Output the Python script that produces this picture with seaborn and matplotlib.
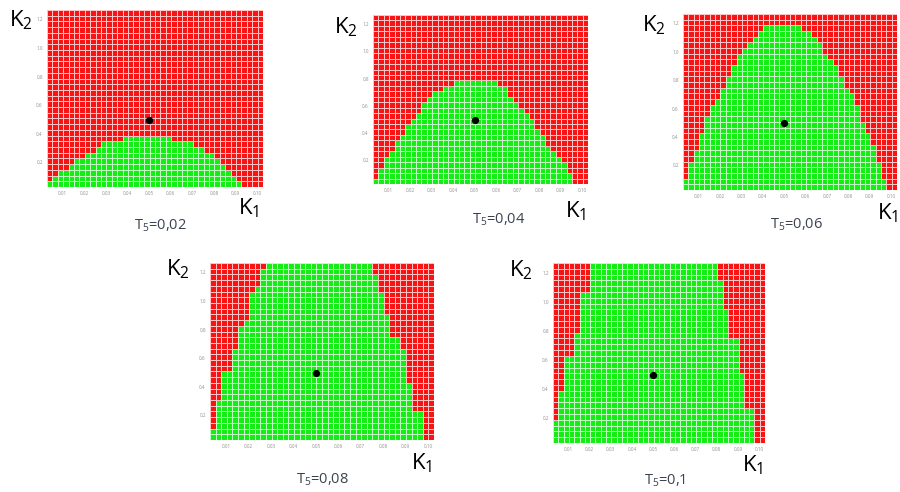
import numpy as np
import pandas as pd
import seaborn as sns
import matplotlib.pyplot as plt
from matplotlib.colors import ListedColormap

sns.set_style("white")
plt.rcParams['font.family'] = ['Open Sans', 'DejaVu Sans']
plt.rcParams['mathtext.default'] = 'regular'

# ---- grid of the parameter plane ----
k1_values = [0.0040, 0.0065, 0.0090, 0.0115, 0.0140, 0.0165, 0.0190, 0.0215, 0.0240, 0.0265,
             0.0290, 0.0315, 0.0340, 0.0365, 0.0390, 0.0415, 0.0440, 0.0465, 0.0490, 0.0515,
             0.0540, 0.0565, 0.0590, 0.0615, 0.0640, 0.0665, 0.0690, 0.0715, 0.0740, 0.0765,
             0.0790, 0.0815, 0.0840, 0.0865, 0.0890, 0.0915, 0.0940, 0.0965, 0.0990, 0.1015]
k2_values = [0.05, 0.09, 0.13, 0.17, 0.21, 0.25, 0.29, 0.33, 0.37, 0.41, 0.45, 0.49, 0.53,
             0.57, 0.61, 0.65, 0.69, 0.73, 0.77, 0.81, 0.85, 0.89, 0.93, 0.97, 1.01, 1.05,
             1.09, 1.13, 1.17, 1.21, 1.25]

x_ticks = [0.01, 0.02, 0.03, 0.04, 0.05, 0.06, 0.07, 0.08, 0.09, 0.10]
x_tick_labels = ["0.01", "0.02", "0.03", "0.04", "0.05", "0.06", "0.07", "0.08", "0.09", "0.10"]
y_ticks = [0.2, 0.4, 0.6, 0.8, 1.0, 1.2]
y_tick_labels = ["0.2", "0.4", "0.6", "0.8", "1.0", "1.2"]

panel_titles = ["0,02", "0,04", "0,06", "0,08", "0,1"]
nominal_point = (0.05, 0.5)

# stable (green) K1 span for each K2 row, bottom row first; None = no stable cell
left_002 = [0.0028, 0.0056, 0.0087, 0.0118, 0.0156, 0.0202, 0.0241, 0.0287, 0.0383]
right_002 = [0.0932, 0.0908, 0.0881, 0.0858, 0.0830, 0.0797, 0.0750, 0.0704, 0.0608]

left_004 = [0.0028, 0.0044, 0.0055, 0.0072, 0.0087, 0.0101, 0.0119, 0.0136, 0.0155, 0.0170,
            0.0186, 0.0204, 0.0223, 0.0241, 0.0261, 0.0286, 0.0311, 0.0351, 0.0392]
right_004 = [0.0963, 0.0955, 0.0936, 0.0915, 0.0894, 0.0874, 0.0856, 0.0839, 0.0819, 0.0800,
             0.0783, 0.0765, 0.0745, 0.0724, 0.0704, 0.0683, 0.0662, 0.0641, 0.0611]

left_006 = [0.0028, 0.0030, 0.0058, 0.0058, 0.0062, 0.0070, 0.0085, 0.0093, 0.0096, 0.0105,
            0.0116, 0.0124, 0.0136, 0.0147, 0.0155, 0.0173, 0.0193, 0.0209, 0.0217, 0.0232,
            0.0244, 0.0260, 0.0271, 0.0286, 0.0306, 0.0325, 0.0348, 0.0371, 0.0402]
right_006 = [0.0966, 0.0966, 0.0958, 0.0951, 0.0943, 0.0937, 0.0927, 0.0915, 0.0906, 0.0894,
             0.0881, 0.0870, 0.0861, 0.0853, 0.0843, 0.0832, 0.0816, 0.0799, 0.0785, 0.0771,
             0.0757, 0.0745, 0.0724, 0.0707, 0.0688, 0.0668, 0.0646, 0.0618, 0.0587]

left_008 = [0.0028, 0.0028, 0.0057, 0.0057, 0.0057, 0.0057, 0.0057, 0.0072, 0.0087, 0.0087,
            0.0087, 0.0087, 0.0117, 0.0124, 0.0124, 0.0124, 0.0154, 0.0154, 0.0154, 0.0154,
            0.0188, 0.0191, 0.0191, 0.0191, 0.0199, 0.0213, 0.0225, 0.0251, 0.0251, 0.0251,
            0.0280]
right_008 = [0.0965, 0.0965, 0.0965, 0.0965, 0.0965, 0.0928, 0.0928, 0.0928, 0.0928, 0.0928,
             0.0898, 0.0898, 0.0898, 0.0898, 0.0898, 0.0898, 0.0868, 0.0868, 0.0831, 0.0831,
             0.0831, 0.0831, 0.0801, 0.0801, 0.0801, 0.0801, 0.0771, 0.0771, 0.0771, 0.0741,
             0.0741]

left_010 = [0.0028, 0.0028, 0.0028, 0.0028, 0.0054, 0.0054, 0.0054, 0.0054, 0.0054, 0.0086,
            0.0086, 0.0086, 0.0086, 0.0086, 0.0086, 0.0117, 0.0117, 0.0117, 0.0117, 0.0148,
            0.0148, 0.0156, 0.0156, 0.0156, 0.0156, 0.0156, 0.0191, 0.0191, 0.0191, 0.0191,
            0.0211]
right_010 = [0.0965, 0.0965, 0.0965, 0.0965, 0.0965, 0.0965, 0.0933, 0.0933, 0.0933, 0.0933,
             0.0933, 0.0933, 0.0894, 0.0894, 0.0894, 0.0894, 0.0894, 0.0894, 0.0863, 0.0863,
             0.0863, 0.0863, 0.0863, 0.0834, 0.0834, 0.0834, 0.0834, 0.0834, 0.0808, 0.0808,
             0.0808]

bounds = [(left_002, right_002), (left_004, right_004), (left_006, right_006),
          (left_008, right_008), (left_010, right_010)]

# ---- layout (pixels in the 900x492 picture) ----
W, H = 900, 492
axes_px = [(47, 10, 216, 177), (373, 15, 215, 169), (683, 14, 214, 176),
           (210, 263, 224, 177), (553, 263, 212, 180)]
k2_lab_px = [(9, 8), (334, 15), (642, 13), (166, 257), (509, 258)]
k1_lab_px = [(238, 196), (565, 199), (877, 201), (411, 451), (742, 453)]
title_px = [(160, 226), (499, 220), (797, 225), (322, 480), (665, 481)]

red = '#f81414'
green = '#14ee14'
cmap = ListedColormap([red, green])

fig = plt.figure(figsize=(W / 100, H / 100), dpi=100)

dk1 = k1_values[1] - k1_values[0]
dk2 = k2_values[1] - k2_values[0]
k1_min = k1_values[0] - dk1 / 2
k2_min = k2_values[0] - dk2 / 2


def xpos(v):
    return (v - k1_min) / dk1


def ypos(v):
    return (v - k2_min) / dk2


for p in range(5):
    lefts, rights = bounds[p]
    grid = np.zeros((len(k2_values), len(k1_values)))
    for j in range(len(lefts)):
        for i, k in enumerate(k1_values):
            if lefts[j] <= k <= rights[j]:
                grid[j, i] = 1
    df = pd.DataFrame(grid, index=k2_values, columns=k1_values)

    l, t, w, h = axes_px[p]
    ax = fig.add_axes([l / W, 1 - (t + h) / H, w / W, h / H])
    sns.heatmap(df, ax=ax, cmap=cmap, vmin=0, vmax=1, cbar=False,
                linewidths=0.55, linecolor=(1, 1, 1, 0.75))
    ax.invert_yaxis()
    ax.set_xlabel('')
    ax.set_ylabel('')
    ax.set_xticks([xpos(v) for v in x_ticks])
    ax.set_xticklabels(x_tick_labels, rotation=0)
    ax.set_yticks([ypos(v) for v in y_ticks])
    ax.set_yticklabels(y_tick_labels, rotation=0)
    ax.tick_params(axis='both', labelsize=3.3, colors='#909090', length=1.5,
                   width=0.4, pad=1.5)
    ax.tick_params(axis='x', length=0, pad=3)
    ax.plot([xpos(nominal_point[0])], [ypos(nominal_point[1])], 'o',
            color='black', markersize=4.2)

    x, y = k2_lab_px[p]
    fig.text(x / W, 1 - y / H, r'K$_2$', fontsize=16, ha='left', va='top', color='black')
    x, y = k1_lab_px[p]
    fig.text(x / W, 1 - y / H, r'K$_1$', fontsize=16, ha='left', va='top', color='black')
    x, y = title_px[p]
    fig.text(x / W, 1 - y / H, r'T$_5$=' + panel_titles[p], fontsize=10.5,
             ha='center', va='center', color='#3b4250')

fig.savefig('out.png', dpi=100)
